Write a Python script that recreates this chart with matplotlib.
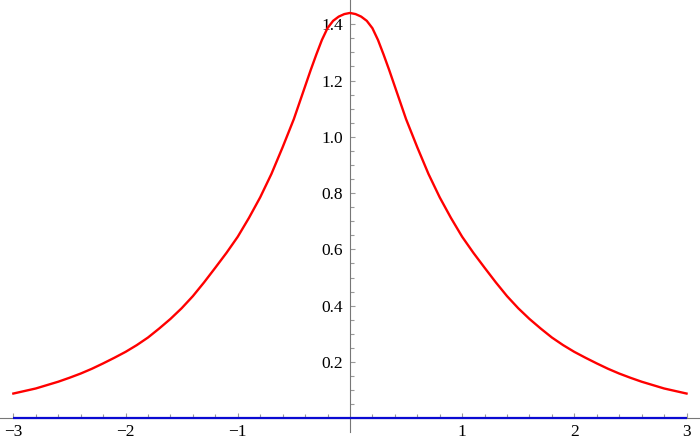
import matplotlib
matplotlib.use("Agg")
import matplotlib.pyplot as plt
from matplotlib.ticker import FixedLocator, FixedFormatter

# Red curve (symmetric about x = 0)
x_pos = [0.0, 0.05, 0.1, 0.15, 0.2, 0.25, 0.3, 0.35, 0.4, 0.45, 0.5,
         0.6, 0.7, 0.8, 0.9, 1.0,
         1.1, 1.2, 1.3, 1.4, 1.5, 1.6, 1.7, 1.8, 1.9, 2.0,
         2.1, 2.2, 2.3, 2.4, 2.5, 2.6, 2.7, 2.8, 2.9, 3.0]
y_pos = [1.440, 1.436, 1.427, 1.412, 1.386, 1.344, 1.292, 1.237, 1.179, 1.121, 1.063,
         0.963, 0.868, 0.785, 0.712, 0.645,
         0.588, 0.535, 0.483, 0.434, 0.391, 0.353, 0.319, 0.287, 0.260, 0.236,
         0.215, 0.195, 0.176, 0.159, 0.144, 0.130, 0.118, 0.106, 0.097, 0.088]
curve_x = [-v for v in x_pos[:0:-1]] + x_pos
curve_y = y_pos[:0:-1] + y_pos

# Blue line (zero)
blue_x = [-3.0, 3.0]
blue_y = [0.0, 0.0]

x_ticks = [-3, -2, -1, 1, 2, 3]
x_labels = ["\u22123", "\u22122", "\u22121", "1", "2", "3"]
y_ticks = [0.2, 0.4, 0.6, 0.8, 1.0, 1.2, 1.4]
y_labels = ["0.2", "0.4", "0.6", "0.8", "1.0", "1.2", "1.4"]

plt.rcParams['font.family'] = ['Liberation Serif', 'DejaVu Serif']

fig = plt.figure(figsize=(7.0, 4.45), dpi=100)
ax = fig.add_axes([0, 0, 1, 1])
ax.patch.set_alpha(0)

ax.plot(curve_x, curve_y, color='#ff0000', lw=1.7, solid_joinstyle='round', zorder=3)
ax.plot(blue_x, blue_y, color='#0a0ad2', lw=1.6, solid_capstyle='butt', zorder=3)

ax.set_xlim(-3.119, 3.120)
ax.set_ylim(-0.0948, 1.486)

for s in ['top', 'right']:
    ax.spines[s].set_visible(False)
ax.spines['left'].set_position(('data', 0))
ax.spines['bottom'].set_position(('data', 0))
ax.spines['left'].set_bounds(-0.047, 1.486)
for s in ['left', 'bottom']:
    ax.spines[s].set_color('#777777')
    ax.spines[s].set_linewidth(0.8)

ax.xaxis.set_major_locator(FixedLocator(x_ticks))
ax.xaxis.set_major_formatter(FixedFormatter(x_labels))
ax.yaxis.set_major_locator(FixedLocator(y_ticks))
ax.yaxis.set_major_formatter(FixedFormatter(y_labels))
x_minor = [m / 5 for m in range(-15, 16) if m % 5 != 0]
y_minor = [m / 20 for m in range(1, 29) if m % 4 != 0]
ax.xaxis.set_minor_locator(FixedLocator(x_minor))
ax.yaxis.set_minor_locator(FixedLocator(y_minor))

ax.tick_params(which='major', direction='in', length=3.8, width=0.8,
               color='#999999', labelsize=12.5, labelcolor='black')
ax.tick_params(which='minor', direction='in', length=2.6, width=0.8, color='#999999')
ax.tick_params(axis='x', which='major', pad=4)
ax.tick_params(axis='y', which='major', pad=5)
for lab in ax.get_xticklabels() + ax.get_yticklabels():
    lab.set_fontfamily(['Liberation Serif', 'DejaVu Serif'])

fig.savefig('out.png', dpi=100)
